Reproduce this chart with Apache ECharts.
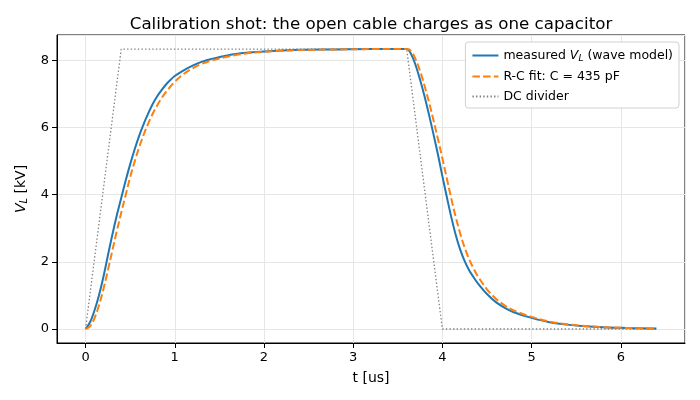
<!DOCTYPE html>
<html>
<head>
<meta charset="utf-8">
<script src="https://cdn.jsdelivr.net/npm/echarts@6/dist/echarts.min.js"></script>
<style>
  html, body { margin: 0; padding: 0; background: #fff; }
  #main { width: 700px; height: 400px; }
</style>
</head>
<body>
<div id="main"></div>
<script>
// time axis in us, voltages in kV
var tSamples = [0, 0.05, 0.1, 0.15, 0.2, 0.25, 0.3, 0.35, 0.4, 0.45, 0.5,
  0.55, 0.6, 0.65, 0.7, 0.75, 0.8, 0.85, 0.9, 0.95, 1.0,
  1.1, 1.2, 1.3, 1.4, 1.6, 1.8, 2.0, 2.2, 2.4, 2.8, 3.2, 3.4, 3.6,
  3.65, 3.7, 3.75, 3.8, 3.85, 3.9, 3.95, 4.0, 4.05, 4.1, 4.15, 4.2, 4.25, 4.3,
  4.35, 4.4, 4.5, 4.6, 4.7, 4.8, 5.0, 5.2, 5.4, 5.6, 5.8, 6.0, 6.2, 6.4];

var measuredV = [0, 0.2, 0.55, 1.0, 1.55, 2.18, 2.8, 3.38, 3.9, 4.42, 4.9,
  5.34, 5.74, 6.09, 6.4, 6.68, 6.91, 7.1, 7.27, 7.41, 7.53,
  7.7, 7.84, 7.95, 8.03, 8.15, 8.22, 8.26, 8.29, 8.31, 8.32, 8.33, 8.33, 8.33,
  8.18, 7.85, 7.42, 6.93, 6.38, 5.8, 5.2, 4.55, 3.93, 3.33, 2.8, 2.36, 2.02, 1.75,
  1.54, 1.35, 1.04, 0.8, 0.63, 0.5, 0.33, 0.2, 0.13, 0.08, 0.05, 0.035, 0.02, 0.015];

var fitV = [0, 0.08, 0.32, 0.7, 1.18, 1.74, 2.33, 2.91, 3.46, 3.99, 4.52,
  4.98, 5.4, 5.77, 6.1, 6.39, 6.64, 6.86, 7.05, 7.21, 7.36,
  7.59, 7.76, 7.89, 7.98, 8.11, 8.2, 8.25, 8.28, 8.3, 8.32, 8.33, 8.33, 8.33,
  8.27, 8.03, 7.68, 7.24, 6.75, 6.22, 5.66, 5.08, 4.48, 3.88, 3.33, 2.84, 2.42, 2.08,
  1.8, 1.56, 1.18, 0.9, 0.7, 0.55, 0.36, 0.22, 0.14, 0.09, 0.055, 0.035, 0.022, 0.014];

var dividerT = [0, 0.4, 3.6, 4.0, 6.4];
var dividerV = [0, 8.33, 8.33, 0, 0];

var seriesNames = ['measured V_L (wave model)', 'R-C fit: C = 435 pF', 'DC divider'];

function pairs(xs, ys) {
  return xs.map(function (x, i) { return [x, ys[i]]; });
}

var chartDom = document.getElementById('main');
var myChart = echarts.init(chartDom);
var font = 'DejaVu Sans';

function intLabel(v) {
  return Math.abs(v - Math.round(v)) < 1e-6 ? String(Math.round(v)) : '';
}

var option = {
  animation: false,
  textStyle: { fontFamily: font },
  title: {
    text: 'Calibration shot: the open cable charges as one capacitor',
    left: 366,
    textAlign: 'center',
    top: 11,
    textStyle: { fontFamily: font, fontSize: 16.7, fontWeight: 'normal', color: '#000' }
  },
  grid: {
    left: 57, right: 15, top: 35, bottom: 57,
    show: true, borderColor: '#000', borderWidth: 1
  },
  legend: {
    orient: 'vertical',
    right: 21,
    top: 42,
    itemWidth: 26,
    itemHeight: 10,
    itemGap: 7,
    padding: [7, 6, 5, 6],
    backgroundColor: '#fff',
    borderColor: '#d0d0d0',
    borderWidth: 1,
    borderRadius: 3,
    itemStyle: { opacity: 0 },
    formatter: function (name) {
      if (name === seriesNames[0]) return 'measured {i|V}{s|L} (wave model)';
      return name;
    },
    textStyle: {
      fontFamily: font, fontSize: 12.5, color: '#000',
      rich: {
        i: { fontFamily: font, fontSize: 12.5, fontStyle: 'italic' },
        s: { fontFamily: font, fontSize: 9, fontStyle: 'italic', padding: [6, 0, 0, 0] }
      }
    },
    data: seriesNames
  },
  xAxis: {
    type: 'value',
    min: -0.32,
    max: 6.72,
    splitNumber: 7,
    name: 't [us]',
    nameLocation: 'middle',
    nameGap: 28,
    nameTextStyle: { fontFamily: font, fontSize: 14, color: '#000' },
    axisLine: { onZero: false, lineStyle: { color: '#000', width: 1 } },
    axisTick: { show: true, length: 5, lineStyle: { color: '#000' } },
    axisLabel: {
      fontFamily: font, fontSize: 13, color: '#000', margin: 8,
      showMinLabel: false, showMaxLabel: false,
      formatter: intLabel
    },
    splitLine: { show: true, lineStyle: { color: '#e6e6e6', width: 1 } }
  },
  yAxis: {
    type: 'value',
    min: -0.417,
    max: 8.75,
    splitNumber: 5,
    name: '{i|V}{s|L} [kV]',
    nameLocation: 'middle',
    nameGap: 27,
    nameRotate: 90,
    nameTextStyle: {
      fontFamily: font, fontSize: 14, color: '#000',
      rich: {
        i: { fontFamily: font, fontSize: 14, fontStyle: 'italic' },
        s: { fontFamily: font, fontSize: 10, fontStyle: 'italic', padding: [7, 0, 0, 0] }
      }
    },
    axisLine: { show: true, onZero: false, lineStyle: { color: '#000', width: 1 } },
    axisTick: { show: true, length: 5, lineStyle: { color: '#000' } },
    axisLabel: {
      fontFamily: font, fontSize: 13, color: '#000', margin: 8,
      showMinLabel: false, showMaxLabel: false,
      formatter: intLabel
    },
    splitLine: { show: true, lineStyle: { color: '#e6e6e6', width: 1 } }
  },
  series: [
    {
      name: seriesNames[0],
      type: 'line',
      data: pairs(tSamples, measuredV),
      showSymbol: false,
      symbol: 'none',
      smooth: 0.35,
      lineStyle: { color: '#1f77b4', width: 2 },
      itemStyle: { color: '#1f77b4' },
      z: 3
    },
    {
      name: seriesNames[1],
      type: 'line',
      data: pairs(tSamples, fitV),
      showSymbol: false,
      symbol: 'none',
      smooth: 0.35,
      lineStyle: { color: '#ff7f0e', width: 2, type: [7.5, 3.2] },
      itemStyle: { color: '#ff7f0e' },
      z: 4
    },
    {
      name: seriesNames[2],
      type: 'line',
      data: pairs(dividerT, dividerV),
      showSymbol: false,
      symbol: 'none',
      lineStyle: { color: '#808080', width: 1.3, type: [1.4, 2.2] },
      itemStyle: { color: '#808080' },
      z: 2
    }
  ]
};

option && myChart.setOption(option);
</script>
</body>
</html>
